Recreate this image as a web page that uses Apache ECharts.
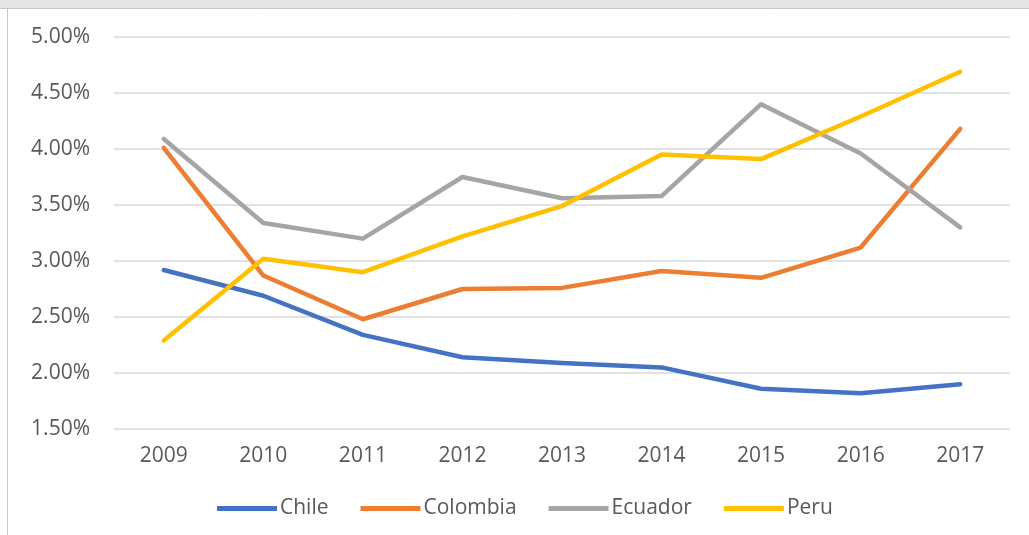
<!DOCTYPE html>
<html>
<head>
    <meta charset="UTF-8">
    <title>Chile Colombia Ecuador Peru</title>
    <script src="https://cdn.jsdelivr.net/npm/echarts@6/dist/echarts.min.js"></script>
    <style>
        html, body { margin: 0; padding: 0; background: #fff; }
        #chart { width: 1029px; height: 535px; }
    </style>
</head>
<body>
    <div id="chart"></div>
    <script>
        // data (percent)
        var years = ['2009', '2010', '2011', '2012', '2013', '2014', '2015', '2016', '2017'];
        var chile = [2.92, 2.69, 2.34, 2.14, 2.09, 2.05, 1.86, 1.82, 1.90];
        var colombia = [4.01, 2.87, 2.48, 2.75, 2.76, 2.91, 2.85, 3.12, 4.18];
        var ecuador = [4.09, 3.34, 3.20, 3.75, 3.56, 3.58, 4.40, 3.96, 3.30];
        var peru = [2.29, 3.02, 2.90, 3.22, 3.49, 3.95, 3.91, 4.29, 4.69];

        var names = ['Chile', 'Colombia', 'Ecuador', 'Peru'];
        var colors = ['#4472C4', '#ED7D31', '#A5A5A5', '#FFC000'];
        var values = [chile, colombia, ecuador, peru];

        var font = 'Open Sans';
        var textColor = '#595959';

        var series = names.map(function (n, i) {
            return {
                name: n,
                type: 'line',
                data: values[i],
                showSymbol: false,
                symbol: 'none',
                lineStyle: { width: 4.5, color: colors[i], cap: 'round', join: 'round' },
                itemStyle: { color: colors[i] }
            };
        });

        var chart = echarts.init(document.getElementById('chart'));
        chart.setOption({
            animation: false,
            color: colors,
            graphic: [
                // grey strip at top and frame lines
                { type: 'rect', shape: { x: 0, y: 0, width: 1029, height: 8 }, style: { fill: '#e6e6e6' }, silent: true },
                { type: 'line', shape: { x1: 0, y1: 8.5, x2: 1029, y2: 8.5 }, style: { stroke: '#c8c8c8', lineWidth: 1 }, silent: true },
                { type: 'line', shape: { x1: 7.5, y1: 8, x2: 7.5, y2: 535 }, style: { stroke: '#c8c8c8', lineWidth: 1 }, silent: true }
            ],
            grid: { left: 114, right: 19, top: 37, bottom: 106, containLabel: false },
            legend: {
                data: names,
                top: 493,
                left: 212,
                icon: 'rect',
                itemWidth: 60,
                itemHeight: 5,
                itemGap: 32,
                textStyle: { color: textColor, fontFamily: font, fontSize: 21, padding: [0, 0, 0, -2] }
            },
            xAxis: {
                type: 'category',
                data: years,
                boundaryGap: true,
                axisLine: { show: false },
                axisTick: { show: false },
                axisLabel: { color: textColor, fontFamily: font, fontSize: 21, margin: 17 }
            },
            yAxis: {
                type: 'value',
                min: 1.5,
                max: 5,
                interval: 0.5,
                axisLine: { show: false },
                axisTick: { show: false },
                splitLine: { lineStyle: { color: '#d9d9d9', width: 1.5 } },
                axisLabel: {
                    color: textColor, fontFamily: font, fontSize: 21, margin: 24,
                    formatter: function (v) { return v.toFixed(2) + '%'; }
                }
            },
            series: series
        });
    </script>
</body>
</html>
